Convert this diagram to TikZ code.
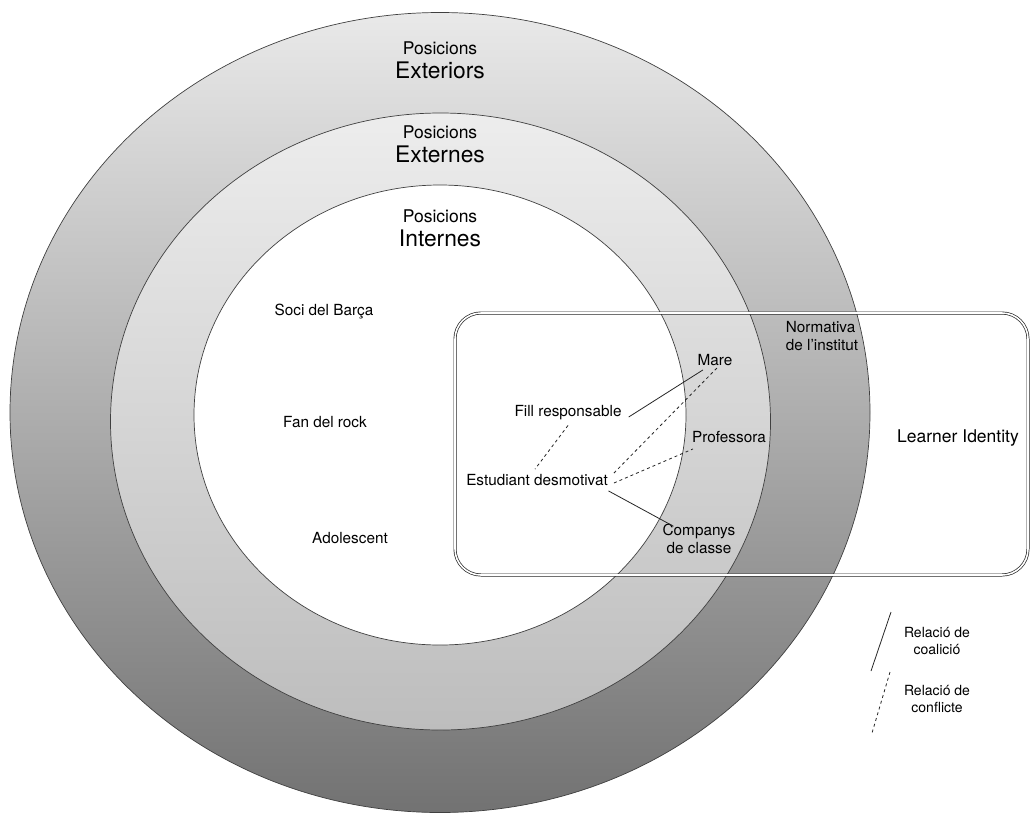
\documentclass[tikz,border=0pt]{standalone}
\usepackage{fontspec}
\setmainfont{TeX Gyre Heros}
\definecolor{oTop}{HTML}{E9E9E9}
\definecolor{oMid}{HTML}{B9B9B9}
\definecolor{oBot}{HTML}{727272}
\definecolor{mTop}{HTML}{EDEDED}
\definecolor{mMid}{HTML}{DDDDDD}
\definecolor{mBot}{HTML}{BDBDBD}
\begin{document}
\begin{tikzpicture}[x=1pt,y=-1pt,
  lab/.style={font=\fontsize{15.3}{17.5}\selectfont, inner sep=2pt, align=center},
  possmall/.style={font=\fontsize{17.5}{20}\selectfont, inner sep=0pt},
  posbig/.style={font=\fontsize{22.8}{26}\selectfont, inner sep=0pt},
  leg/.style={font=\fontsize{14}{17}\selectfont, align=center, inner sep=0pt},
  ring/.style={draw=black!75, line width=0.7pt},
  coal/.style={draw=black!85, line width=0.8pt},
  conf/.style={draw=black!85, line width=0.8pt, dash pattern=on 3pt off 3pt},
  frame/.style={draw=black!85, double=white, double distance=1.6pt, line width=0.7pt, rounded corners=26pt}
]
\useasboundingbox (0,0) rectangle (1030,812);
\begin{scope}
\clip (0,0) rectangle (1030,812);
\shadedraw[ring, top color=oTop, middle color=oMid, bottom color=oBot] (440,412.5) ellipse [x radius=430, y radius=400];
\end{scope}
\shadedraw[ring, top color=mTop, middle color=mMid, bottom color=mBot] (440.5,421.5) ellipse [x radius=330, y radius=308.5];
\filldraw[ring, fill=white] (440,415) ellipse [x radius=246, y radius=230];

\draw[frame] (455,313) rectangle (1028,575);

\node[possmall] (p1) at (440,48) {Posicions};
\node[posbig] (e1) at (440,70) {Exteriors};
\node[possmall] (p2) at (440,132) {Posicions};
\node[posbig] (e2) at (440,154) {Externes};
\node[possmall] (p3) at (440,216) {Posicions};
\node[posbig] (e3) at (440,238) {Internes};

\node[lab] (soci) at (324,312) {Soci del Barça};
\node[lab] (fan) at (325,422) {Fan del rock};
\node[lab] (adol) at (350,538) {Adolescent};
\node[lab, align=left] (norm) at (822,336) {Normativa\\de l'institut};
\node[lab] (mare) at (715,360) {Mare};
\node[lab] (fill) at (568,413) {Fill responsable};
\node[lab] (prof) at (729,437) {Professora};
\node[lab] (estud) at (537,480) {Estudiant desmotivat};
\node[lab] (comp) at (699,539) {Companys\\de classe};
\node[font=\fontsize{17.5}{20}\selectfont] (learner) at (958,438) {Learner Identity};

\draw[coal] ([xshift=5pt,yshift=-4pt]fill.east) -- ([xshift=-12pt,yshift=-2pt]mare.south);
\draw[conf] ([yshift=-3pt]fill.south) -- ([xshift=-2pt,yshift=3pt]estud.north);
\draw[conf] ([xshift=4pt,yshift=7pt]estud.east) -- ([xshift=3pt,yshift=1pt]mare.south);
\draw[conf] ([xshift=4pt,yshift=-3pt]estud.east) -- ([xshift=3pt,yshift=-4pt]prof.south west);
\draw[coal] ([xshift=-1.5pt,yshift=-3pt]estud.south east) -- ([xshift=13pt,yshift=-4pt]comp.north west);

\coordinate (c1) at (891,612);
\coordinate (c2) at (871,671);
\draw[coal] (c1) -- (c2);
\coordinate (d1) at (890,672);
\coordinate (d2) at (872,733);
\draw[conf] (d1) -- (d2);
\node[leg] (lc) at (937,641) {Relació de\\coalició};
\node[leg] (lf) at (937,699) {Relació de\\conflicte};
\end{tikzpicture}
\end{document}
